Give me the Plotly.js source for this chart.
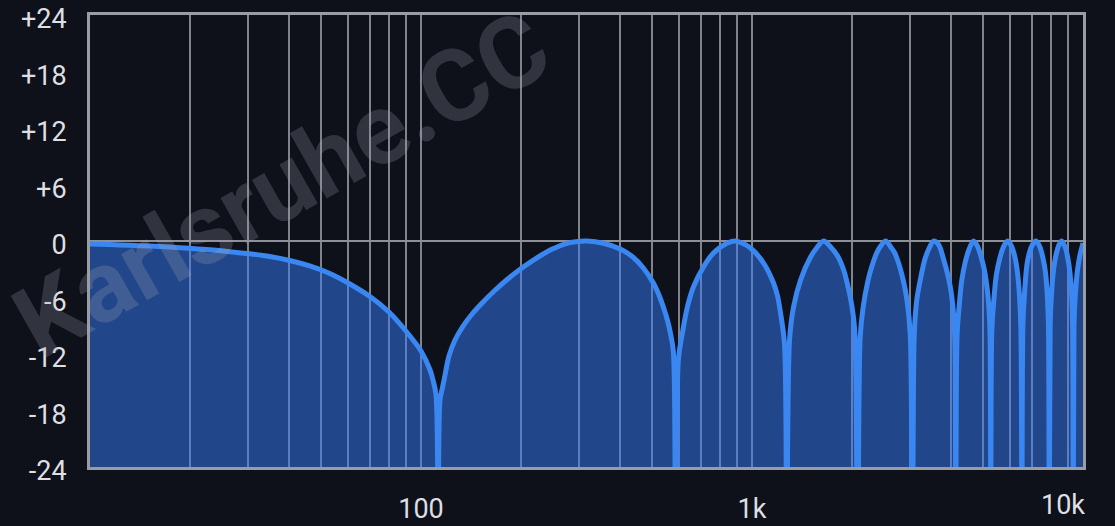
<!DOCTYPE html>
<html>
<head>
<meta charset="utf-8">
<script src="https://cdn.plot.ly/plotly-3.0.1.min.js"></script>
<style>
  html, body { margin: 0; padding: 0; background: #0e111a; }
  #chart { width: 1115px; height: 526px; }
</style>
</head>
<body>
<div id="chart"></div>
<script>
// Frequency response: frequency (Hz) and gain (dB)
const freqHz = [
  10, 11.46, 13.17, 15.14, 17.4, 20, 22.99, 26.43, 30.38, 34.9, 40.1, 46.1, 53.05, 60.98, 70.1, 80, 89.5, 100, 106.5, 108.7, 111, 112.6,
  114.1, 115.7, 117.4, 121.5, 126.7, 134, 142.7, 153, 166.4, 182.1, 200.8, 222.8, 247.4, 274.6, 302.8, 317.8,
  355.4, 400, 434.8, 469.6, 503.5, 521.3, 539.8, 555.1, 566.8, 578.8, 586.9,
  599.3, 616.2, 637.9, 665.3, 713.4, 764.8, 843.2, 891.5,
  936.1, 989.7, 1083.5, 1161.5, 1194.5, 1219.6, 1254, 1271.5,
  1298.5, 1335, 1402, 1503, 1567.4, 1646,
  1728, 1814, 1892, 1945, 2001, 2043, 2086,
  2122, 2167, 2236, 2299, 2381, 2448, 2535,
  2625, 2699, 2844, 2944, 3007, 3053,
  3092, 3146, 3224, 3324, 3420, 3541,
  3667, 3797, 3904, 3987, 4057, 4100, 4129,
  4165, 4229, 4304, 4409, 4519, 4669,
  4812, 4913, 5035, 5140, 5213, 5242, 5268,
  5304, 5378, 5473, 5608, 5748, 5918,
  6077, 6228, 6336, 6426, 6493, 6538,
  6583, 6653, 6769, 6911, 7057, 7208,
  7411, 7568, 7700, 7798, 7863, 7907,
  7958, 8030, 8160, 8315, 8461, 8620,
  8851, 9007, 9134, 9242, 9300, 9349,
  9393, 9478, 9625, 9793, 9931, 10000];
const gainDb = [
  -0.32, -0.38, -0.46, -0.54, -0.65, -0.78, -0.93, -1.13, -1.36, -1.65, -2.07, -2.65, -3.45, -4.57, -5.9, -7.54, -9.45, -11.68, -13.7, -14.76, -16.35, -40,
  -16.9, -15.82, -14.76, -12.21, -10.51, -9.03, -7.75, -6.58, -5.31, -4.09, -2.92, -1.84, -0.91, -0.27, -0.03, 0,
  -0.24, -0.85, -1.65, -2.87, -4.46, -5.58, -7.01, -8.39, -9.77, -11.8, -40,
  -12.6, -9.77, -7.01, -4.88, -2.76, -1.27, -0.21, 0,
  -0.24, -0.74, -2.34, -4.46, -5.84, -7.65, -11.04, -40,
  -10.5, -7.01, -4.14, -1.7, -0.74, 0,
  -0.64, -1.59, -3.08, -4.67, -6.8, -9.45, -40,
  -10.3, -7.01, -4.35, -2.76, -1.27, -0.53, 0,
  -0.64, -1.27, -3.72, -6.48, -9.98, -40,
  -9.98, -6.27, -4.14, -2.02, -0.85, 0,
  -0.42, -2.02, -3.61, -5.2, -7.54, -10.51, -40,
  -9.98, -6.8, -4.14, -2.23, -0.96, 0,
  -0.64, -1.59, -3.08, -5.2, -7.86, -10.51, -40,
  -9.45, -6.27, -3.61, -1.81, -0.64, 0,
  -0.53, -1.7, -3.29, -5.73, -9.45, -40,
  -8.92, -5.73, -2.55, -1.06, -0.32, 0,
  -0.64, -1.81, -3.29, -5.73, -8.92, -40,
  -8.92, -5.73, -2.87, -1.27, -0.42, 0,
  -0.74, -1.91, -3.4, -5.73, -8.92, -40,
  -8.92, -5.73, -3.08, -1.49, -0.64, -0.21];

const floorHz = [10, 10000];
const floorDb = [-30, -30];

const xGridVals = [10, 20, 30, 40, 50, 60, 70, 80, 90, 100, 200, 300, 400, 500, 600, 700, 800, 900,
  1000, 2000, 3000, 4000, 5000, 6000, 7000, 8000, 9000, 10000];
const xGridText = ['', '', '', '', '', '', '', '', '', '100', '', '', '', '', '', '', '', '',
  '1k', '', '', '', '', '', '', '', '', ''];
const xEndLabel = '10k';

const yTickVals = [-24, -18, -12, -6, 0, 6, 12, 18, 24];
const yTickText = ['-24', '-18', '-12', '-6', '0', '+6', '+12', '+18', '+24'];

const watermark = 'Karlsruhe.CC';

const labelFont = { family: 'Roboto, sans-serif', size: 27, color: '#dedfe2' };

const traces = [
  { x: floorHz, y: floorDb, mode: 'lines', line: { width: 0, color: 'rgba(0,0,0,0)' },
    hoverinfo: 'skip', showlegend: false },
  { x: freqHz, y: gainDb, mode: 'lines', fill: 'tonexty', fillcolor: 'rgba(54,123,250,0.5)',
    line: { color: '#3b87f2', width: 5, shape: 'spline', smoothing: 0.9 },
    showlegend: false }
];

const layout = {
  width: 1115, height: 526,
  margin: { l: 90, r: 32, t: 15, b: 59 },
  paper_bgcolor: '#0e111a',
  plot_bgcolor: '#0e111a',
  showlegend: false,
  xaxis: {
    type: 'log', range: [1, 4],
    tickvals: xGridVals, ticktext: xGridText,
    showgrid: true, gridcolor: '#80838b', gridwidth: 2,
    ticks: '', tickfont: labelFont, ticklabelstandoff: 16,
    showline: true, mirror: true, linecolor: '#9a9ca3', linewidth: 3,
    zeroline: false, fixedrange: true
  },
  yaxis: {
    range: [-24, 24],
    tickvals: yTickVals, ticktext: yTickText,
    showgrid: false,
    zeroline: true, zerolinecolor: '#8d9097', zerolinewidth: 2.5,
    ticks: '', tickfont: labelFont, ticklabelstandoff: 15, ticklabelshift: 4,
    ticklabeloverflow: 'allow',
    showline: true, mirror: true, linecolor: '#9a9ca3', linewidth: 3,
    fixedrange: true
  },
  annotations: [
    { text: xEndLabel, x: Math.log10(xGridVals[xGridVals.length - 1]), xref: 'x',
      y: -0.083, yref: 'paper', xanchor: 'right', yanchor: 'middle', xshift: 4,
      showarrow: false, font: labelFont },
    { text: watermark, x: 0.193, y: 0.624, xref: 'paper', yref: 'paper',
      xanchor: 'center', yanchor: 'middle', textangle: -29.5, showarrow: false,
      font: { family: 'Roboto, sans-serif', size: 100, weight: 'bold', color: 'rgba(165,168,178,0.24)' } }
  ]
};

Plotly.newPlot('chart', traces, layout, { staticPlot: true, displayModeBar: false });
</script>
</body>
</html>
